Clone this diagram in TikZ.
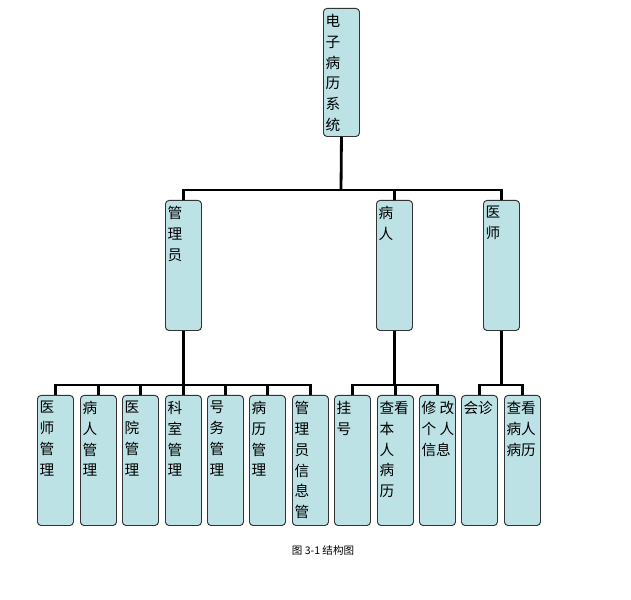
\documentclass[tikz,border=0pt]{standalone}
\usepackage{fontspec}
\setmainfont{Noto Sans CJK SC}
\definecolor{boxfill}{HTML}{BDE2E5}
\tikzset{
  box/.style={draw=black!80, fill=boxfill, rounded corners=3pt, line width=0.8pt,
    minimum width=1.08cm, anchor=north west, inner sep=0pt},
  boxtext/.style={anchor=north west, align=left, inner sep=0pt,
    font=\fontsize{12.5pt}{17.8pt}\selectfont},
  conn/.style={line width=2.4pt, black}
}
\begin{document}
\begin{tikzpicture}[x=0.03cm,y=-0.03cm]
  \useasboundingbox (0,0) rectangle (631,600);
  %top
  \node[box, minimum height=3.84cm] (top) at (323,8) {};
  \node[boxtext] (ttop) at ([xshift=2pt,yshift=-5pt]top.north west) {电\\子\\病\\历\\系\\统};
  %middle level
  \foreach \n/\x/\t in {adm/165/{管\\理\\员}, pat/376/{病\\人}, doc/483/{医\\师}}{
    \node[box, minimum height=3.9cm] (\n) at (\x,200) {};
    \node[boxtext] (t\n) at ([xshift=2pt,yshift=-5pt]\n.north west) {\t};
  }
  %bottom level
  \foreach \i/\x/\t in {1/37/{医\\师\\管\\理}, 2/80/{病\\人\\管\\理}, 3/122/{医\\院\\管\\理},
      4/165/{科\\室\\管\\理}, 5/207/{号\\务\\管\\理}, 6/249/{病\\历\\管\\理},
      7/292/{管\\理\\员\\信\\息\\管}, 8/334/{挂\\号}, 9/377/{查看\\本\\人\\病\\历},
      10/419/{修 改\\个 人\\信息}, 11/461/{会诊}, 12/504/{查看\\病人\\病历}}{
    \node[box, minimum height=3.9cm] (c\i) at (\x,395) {};
    \node[boxtext] (tc\i) at ([xshift=2pt,yshift=-5pt]c\i.north west) {\t};
  }
  %connectors
  \coordinate (j0) at (341,190);
  \draw[conn] (top.south) -- (j0);
  \draw[conn] (adm.north) |- (j0) -| (doc.north);
  \draw[conn] (pat.north) -- (pat.north |- j0);
  \draw[conn] (adm.south) -- (adm.south |- c1.north) -- ++(0,-10);
  \draw[conn] (c1.north) -- ++(0,-10) -| (c7.north);
  \foreach \i in {2,...,6} \draw[conn] (c\i.north) -- ++(0,-10);
  \draw[conn] (pat.south) -- ++(0,55);
  \draw[conn] (c8.north) -- ++(0,-10) -| (c10.north);
  \draw[conn] (c9.north) -- ++(0,-10);
  \draw[conn] (doc.south) -- ++(0,55);
  \draw[conn] (c11.north) -- ++(0,-10) -| (c12.north);
  %caption
  \node[font=\fontsize{9pt}{11pt}\selectfont] (cap) at (323,550) {图 3-1 结构图};
\end{tikzpicture}
\end{document}
